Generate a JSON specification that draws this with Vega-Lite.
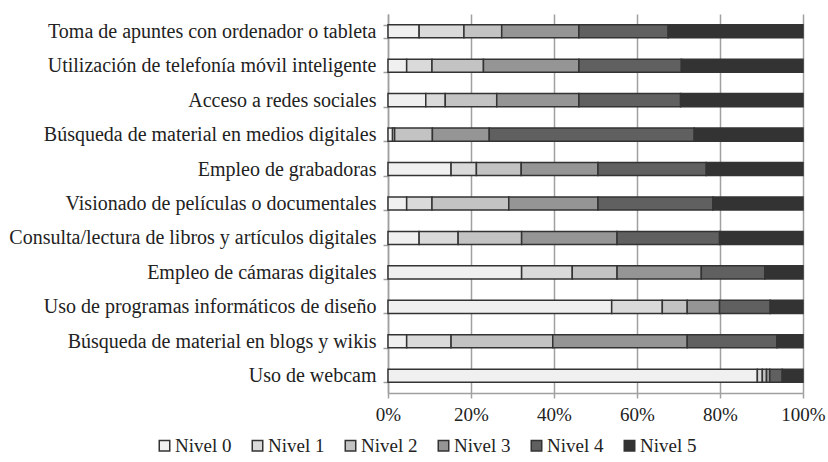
{
  "$schema": "https://vega.github.io/schema/vega-lite/v6.json",
  "width": 415,
  "height": 379,
  "autosize": {"type": "none"},
  "padding": {"left": 388, "top": 14, "right": 25, "bottom": 69},
  "background": "white",
  "config": {
    "view": {"stroke": null},
    "font": "Liberation Serif"
  },
  "datasets": {
    "raw": [
      {"cat": "Toma de apuntes con ordenador o tableta", "n0": 7.5, "n1": 10.8, "n2": 9.1, "n3": 18.6, "n4": 21.5, "n5": 32.5},
      {"cat": "Utilización de telefonía móvil inteligente", "n0": 4.5, "n1": 6.1, "n2": 12.4, "n3": 23.0, "n4": 24.7, "n5": 29.3},
      {"cat": "Acceso a redes sociales", "n0": 9.1, "n1": 4.7, "n2": 12.4, "n3": 19.8, "n4": 24.5, "n5": 29.5},
      {"cat": "Búsqueda de material en medios digitales", "n0": 1.1, "n1": 0.5, "n2": 9.1, "n3": 13.7, "n4": 49.4, "n5": 26.2},
      {"cat": "Empleo de grabadoras", "n0": 15.2, "n1": 6.1, "n2": 10.8, "n3": 18.5, "n4": 26.1, "n5": 23.3},
      {"cat": "Visionado de películas o documentales", "n0": 4.5, "n1": 6.1, "n2": 18.5, "n3": 21.5, "n4": 27.7, "n5": 21.7},
      {"cat": "Consulta/lectura de libros y artículos digitales", "n0": 7.5, "n1": 9.4, "n2": 15.3, "n3": 23.0, "n4": 24.7, "n5": 20.1},
      {"cat": "Empleo de cámaras digitales", "n0": 32.2, "n1": 12.2, "n2": 10.8, "n3": 20.3, "n4": 15.3, "n5": 9.2},
      {"cat": "Uso de programas informáticos de diseño", "n0": 53.9, "n1": 12.2, "n2": 6.0, "n3": 7.8, "n4": 12.2, "n5": 7.9},
      {"cat": "Búsqueda de material en blogs y wikis", "n0": 4.5, "n1": 10.7, "n2": 24.5, "n3": 32.4, "n4": 21.6, "n5": 6.3},
      {"cat": "Uso de webcam", "n0": 89.0, "n1": 1.2, "n2": 1.0, "n3": 0.8, "n4": 3.0, "n5": 5.0}
    ]
  },
  "data": {"name": "raw"},
  "transform": [
    {"fold": ["n0", "n1", "n2", "n3", "n4", "n5"], "as": ["key", "value"]},
    {"lookup": "key", "from": {"data": {"values": [
      {"key": "n0", "nivel": "Nivel 0"},
      {"key": "n1", "nivel": "Nivel 1"},
      {"key": "n2", "nivel": "Nivel 2"},
      {"key": "n3", "nivel": "Nivel 3"},
      {"key": "n4", "nivel": "Nivel 4"},
      {"key": "n5", "nivel": "Nivel 5"}
    ]}, "key": "key", "fields": ["nivel"]}}
  ],
  "mark": {"type": "bar", "stroke": "#333333", "strokeWidth": 1.5},
  "encoding": {
    "y": {
      "field": "cat",
      "type": "nominal",
      "sort": null,
      "title": null,
      "scale": {"paddingInner": 0.62, "paddingOuter": 0.31},
      "axis": {
        "labelFont": "Liberation Serif",
        "labelFontSize": 20,
        "labelColor": "#222222",
        "labelLimit": 400,
        "labelPadding": 7,
        "ticks": true,
        "tickBand": "extent",
        "tickSize": 5,
        "tickColor": "#a0a0a0",
        "tickWidth": 1.5,
        "domainColor": "#a0a0a0",
        "domainWidth": 1.5
      }
    },
    "x": {
      "field": "value",
      "type": "quantitative",
      "stack": "normalize",
      "title": null,
      "scale": {"domain": [0, 1]},
      "axis": {
        "values": [0, 0.2, 0.4, 0.6, 0.8, 1],
        "format": ".0%",
        "labelFont": "Liberation Serif",
        "labelFontSize": 19,
        "labelColor": "#222222",
        "labelPadding": 7,
        "grid": true,
        "gridColor": "#a0a0a0",
        "gridWidth": 1.5,
        "domainColor": "#a0a0a0",
        "domainWidth": 1.5,
        "tickColor": "#a0a0a0",
        "tickWidth": 1.5,
        "tickSize": 5,
        "labelFlush": false
      }
    },
    "color": {
      "field": "nivel",
      "type": "nominal",
      "title": null,
      "scale": {
        "domain": ["Nivel 0", "Nivel 1", "Nivel 2", "Nivel 3", "Nivel 4", "Nivel 5"],
        "range": ["#f0f0f0", "#dadada", "#c3c3c3", "#959595", "#606060", "#333333"]
      },
      "legend": {
        "orient": "none",
        "direction": "horizontal",
        "legendX": -233,
        "legendY": 422,
        "symbolType": "square",
        "symbolSize": 110,
        "symbolStrokeColor": "#333333",
        "symbolStrokeWidth": 1.5,
        "labelFont": "Liberation Serif",
        "labelFontSize": 19,
        "labelColor": "#222222",
        "labelOffset": 1,
        "columnPadding": 16
      }
    },
    "order": {"field": "key", "sort": "ascending"}
  }
}
